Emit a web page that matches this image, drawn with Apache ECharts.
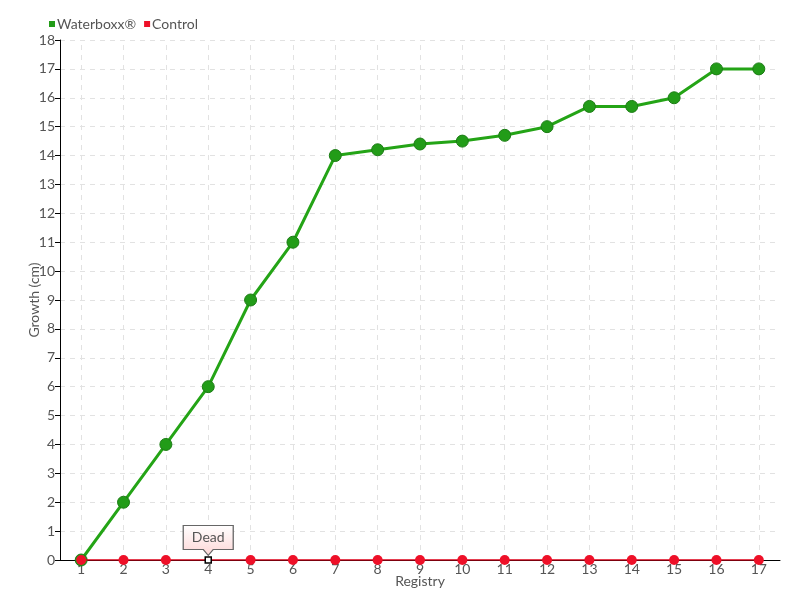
<!DOCTYPE html>
<html><head><meta charset="utf-8">
<script src="https://cdn.jsdelivr.net/npm/echarts@6/dist/echarts.min.js"></script>
<style>html,body{margin:0;padding:0;background:#fff}#c{width:800px;height:600px}</style>
</head><body><div id="c"></div>
<script>
const categories = ['1','2','3','4','5','6','7','8','9','10','11','12','13','14','15','16','17'];
const waterboxx = [0,2,4,6,9,11,14,14.2,14.4,14.5,14.7,15,15.7,15.7,16,17,17];
const control = [0,0,0,0,0,0,0,0,0,0,0,0,0,0,0,0,0];
const deadIndex = 3;
const deadLabel = 'Dead';

const FONT = 'Lato, sans-serif';
const chart = echarts.init(document.getElementById('c'));
const controlData = control.map((v, i) => i === deadIndex ? {
  value: v,
  symbol: 'rect', symbolSize: 6,
  itemStyle: {color: '#fff', borderColor: '#000', borderWidth: 1.5}
} : v);

chart.setOption({
  animation: false,
  textStyle: {fontFamily: FONT, color: '#555'},
  legend: {
    left: 44, top: 12, itemWidth: 6, itemHeight: 6, itemGap: 8,
    icon: 'rect',
    itemStyle: {borderWidth: 0},
    textStyle: {fontFamily: FONT, fontSize: 14, color: '#555', padding: [0,0,0,-3]},
    data: ['Waterboxx®', 'Control']
  },
  grid: {left: 60, right: 20, top: 40, bottom: 40},
  xAxis: {
    type: 'category', data: categories, boundaryGap: true,
    name: 'Registry', nameLocation: 'middle', nameGap: 14, nameMoveOverlap: false,
    nameTextStyle: {fontFamily: FONT, fontSize: 14, color: '#555'},
    axisLine: {lineStyle: {color: '#000', width: 1}},
    axisTick: {show: false},
    axisLabel: {fontFamily: FONT, fontSize: 14, color: '#555', margin: 2},
    splitLine: {show: false}
  },
  yAxis: {
    type: 'value', min: 0, max: 18, interval: 1,
    name: 'Growth (cm)', nameLocation: 'middle', nameGap: 19, nameRotate: 90, nameMoveOverlap: false,
    nameTextStyle: {fontFamily: FONT, fontSize: 14, color: '#555'},
    axisLine: {show: true, lineStyle: {color: '#000', width: 1}},
    axisTick: {show: true, length: 5, lineStyle: {color: '#000'}},
    axisLabel: {fontFamily: FONT, fontSize: 14, color: '#555', margin: 5},
    splitLine: {show: true, lineStyle: {color: '#e2e2e2', type: [5, 5], width: 1}}
  },
  series: [
    {
      name: 'grid', type: 'line', data: [], silent: true, z: 0,
      markLine: {
        silent: true, symbol: 'none', label: {show: false}, z: 0,
        lineStyle: {color: '#e2e2e2', type: [5, 5], width: 1},
        data: categories.map(c => ({xAxis: c}))
      }
    },
    {
      name: 'Waterboxx®', type: 'line', data: waterboxx, z: 3,
      color: '#22a010',
      lineStyle: {width: 3, color: '#24a416'},
      symbol: 'circle', symbolSize: 12,
      itemStyle: {color: '#229c18', borderColor: '#1b7c14', borderWidth: 1}
    },
    {
      name: 'Control', type: 'line', data: controlData, z: 4,
      color: '#e8102a',
      lineStyle: {width: 1.5, color: '#dd0018'},
      symbol: 'circle', symbolSize: 10,
      itemStyle: {color: '#ee1028', borderWidth: 0},
      markPoint: {
        symbol: 'path://M0,0 L50,0 L50,24 L30,24 L25,30 L20,24 L0,24 Z',
        symbolSize: [50, 30], symbolOffset: [0, '-65%'],
        itemStyle: {
          color: {type: 'linear', x: 0, y: 0, x2: 0, y2: 1, colorStops: [{offset: 0, color: '#ffffff'}, {offset: 1, color: '#fdd6d6'}]},
          borderColor: '#666', borderWidth: 1
        },
        label: {show: true, formatter: deadLabel, fontFamily: FONT, fontSize: 14, color: '#555', offset: [0, -3]},
        data: [{coord: [categories[deadIndex], control[deadIndex]]}]
      }
    }
  ]
});
</script></body></html>
